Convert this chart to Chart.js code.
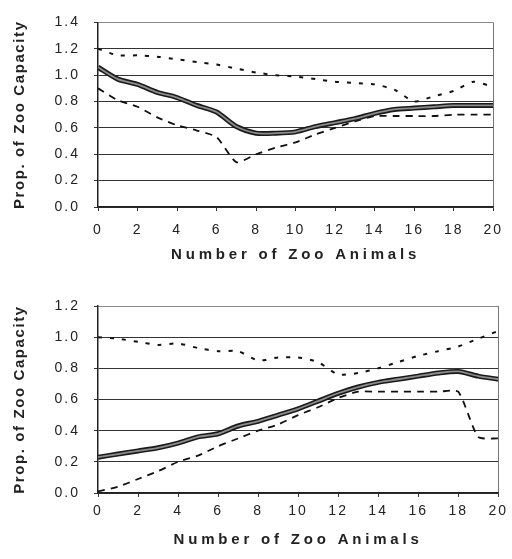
<!DOCTYPE html>
<html>
<head>
<meta charset="utf-8">
<script src="https://cdn.jsdelivr.net/npm/chart.js@4.4.1/dist/chart.umd.min.js"></script>
<style>
  html, body { margin: 0; padding: 0; background: #fff; }
  .box { width: 512px; position: relative; }
</style>
</head>
<body>
<div class="box"><canvas id="topChart" width="512" height="280"></canvas></div>
<div class="box"><canvas id="bottomChart" width="512" height="279"></canvas></div>
<script>
const animals = [0, 1, 2, 3, 4, 5, 6, 7, 8, 9, 10, 11, 12, 13, 14, 15, 16, 17, 18, 19, 20];
const xTicks = [0, 2, 4, 6, 8, 10, 12, 14, 16, 18, 20];

// top panel
const topMean = [1.06, 0.97, 0.93, 0.87, 0.83, 0.77, 0.72, 0.61, 0.56, 0.56, 0.57, 0.61, 0.64, 0.67, 0.71, 0.74, 0.75, 0.76, 0.77, 0.77, 0.77];
const topUpper = [1.2, 1.15, 1.15, 1.14, 1.12, 1.1, 1.08, 1.05, 1.02, 1.0, 0.99, 0.97, 0.95, 0.94, 0.93, 0.89, 0.8, 0.84, 0.88, 0.95, 0.91];
const topLower = [0.9, 0.81, 0.76, 0.68, 0.62, 0.58, 0.53, 0.34, 0.4, 0.45, 0.49, 0.55, 0.6, 0.65, 0.69, 0.69, 0.69, 0.69, 0.7, 0.7, 0.7];
const topYTicks = [0, 0.2, 0.4, 0.6, 0.8, 1.0, 1.2, 1.4];

// bottom panel
const botMean = [0.23, 0.25, 0.27, 0.29, 0.32, 0.36, 0.38, 0.43, 0.46, 0.5, 0.54, 0.59, 0.64, 0.68, 0.71, 0.73, 0.75, 0.77, 0.78, 0.75, 0.73];
const botUpper = [1.0, 0.99, 0.97, 0.95, 0.96, 0.93, 0.91, 0.91, 0.85, 0.87, 0.87, 0.84, 0.76, 0.77, 0.8, 0.84, 0.88, 0.91, 0.94, 0.99, 1.04];
const botLower = [0.01, 0.04, 0.09, 0.14, 0.2, 0.24, 0.3, 0.35, 0.4, 0.44, 0.5, 0.55, 0.61, 0.65, 0.65, 0.65, 0.65, 0.65, 0.65, 0.36, 0.35];
const botYTicks = [0, 0.2, 0.4, 0.6, 0.8, 1.0, 1.2];

const FONT = "'Liberation Sans', Arial, sans-serif";
const INK = "#222";

// canvas letterSpacing for tick labels and titles (old printed look)
const spacing = {
  id: "spacing",
  beforeDraw(chart) {
    Object.values(chart.scales).forEach((s) => {
      if (s._spaced) return;
      s._spaced = true;
      const wrap = (name, px) => {
        const orig = s[name];
        s[name] = function (...args) {
          const prev = this.ctx.letterSpacing;
          this.ctx.letterSpacing = px;
          orig.apply(this, args);
          this.ctx.letterSpacing = prev;
        };
      };
      wrap("drawLabels", "2px");
      wrap("drawTitle", s.axis === "x" ? "3.8px" : "1.6px");
    });
  },
};

const toPoints = (ys) => ys.map((y, i) => ({ x: animals[i], y: y }));

function makeChart(id, mean, upper, lower, yTicks, box) {
  const yMax = yTicks[yTicks.length - 1];
  return new Chart(document.getElementById(id), {
    type: "line",
    data: {
      datasets: [
        {
          data: toPoints(mean),
          borderColor: "#8c8c8c",
          borderWidth: 1.8,
          tension: 0.25,
          pointRadius: 0,
          order: 0,
        },
        {
          data: toPoints(mean),
          borderColor: "#1a1a1a",
          borderWidth: 5,
          tension: 0.25,
          pointRadius: 0,
          order: 1,
        },
        {
          data: toPoints(upper),
          borderColor: "#111",
          borderWidth: 2,
          borderDash: [4, 8],
          tension: 0.2,
          pointRadius: 0,
          order: 2,
        },
        {
          data: toPoints(lower),
          borderColor: "#111",
          borderWidth: 1.8,
          borderDash: [7, 6],
          tension: 0.2,
          pointRadius: 0,
          order: 3,
        },
      ],
    },
    options: {
      responsive: false,
      animation: false,
      layout: { padding: { top: box.top, right: 10, left: 0, bottom: 0 } },
      plugins: { legend: { display: false }, tooltip: { enabled: false } },
      scales: {
        x: {
          type: "linear",
          min: 0,
          max: 20,
          afterBuildTicks: (scale) => {
            scale.ticks = xTicks.map((v) => ({ value: v }));
          },
          afterFit: (scale) => {
            scale.height = box.h - box.bottom;
          },
          ticks: {
            color: INK,
            padding: box.tickPad,
            maxRotation: 0,
            font: { family: FONT, size: 14 },
          },
          grid: {
            color: (c) => (c.tick && c.tick.value === 20 ? "#777" : "rgba(0,0,0,0)"),
            tickColor: "#333",
            tickLength: 4,
          },
          border: { color: "#222", width: 1.5 },
          title: {
            display: true,
            text: "Number of Zoo Animals",
            color: INK,
            padding: { top: 0, bottom: box.titlePad },
            font: { family: FONT, size: 15, weight: "bold" },
          },
        },
        y: {
          min: 0,
          max: yMax,
          afterBuildTicks: (scale) => {
            scale.ticks = yTicks.map((v) => ({ value: v }));
          },
          afterFit: (scale) => {
            scale.width = 98;
          },
          ticks: {
            color: INK,
            padding: 14,
            callback: (v) => v.toFixed(1),
            font: { family: FONT, size: 14 },
          },
          grid: {
            color: (c) => (c.tick && c.tick.value === yMax ? "#8a8a8a" : "#333"),
            tickColor: "#333",
            tickLength: 4,
          },
          border: { color: "#222", width: 1.5 },
          title: {
            display: true,
            text: "Prop. of Zoo Capacity",
            color: INK,
            padding: { top: 11, bottom: 0 },
            font: { family: FONT, size: 15, weight: "bold" },
          },
        },
      },
    },
    plugins: [spacing],
  });
}

makeChart("topChart", topMean, topUpper, topLower, topYTicks,
  { top: 17, bottom: 207, h: 280, tickPad: 11, titlePad: 16 });
makeChart("bottomChart", botMean, botUpper, botLower, botYTicks,
  { top: 26, bottom: 213, h: 279, tickPad: 6, titlePad: 10 });
</script>
</body>
</html>
